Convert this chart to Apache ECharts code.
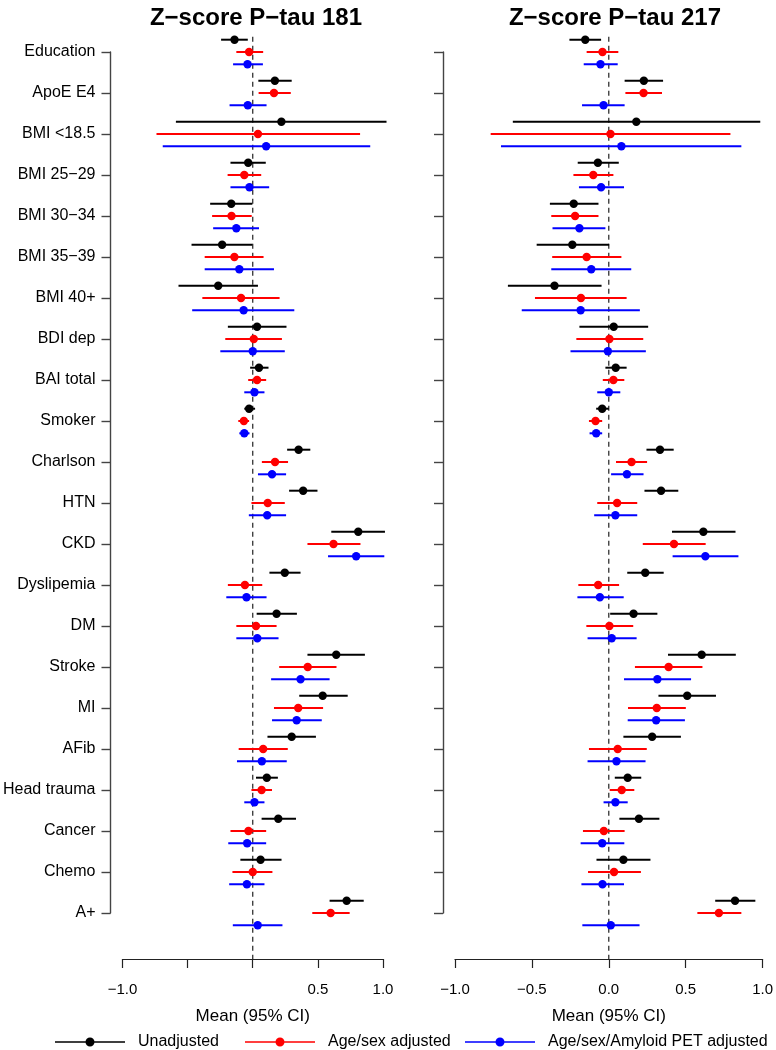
<!DOCTYPE html>
<html>
<head>
<meta charset="utf-8">
<script src="https://cdn.jsdelivr.net/npm/echarts@6/dist/echarts.min.js"></script>
<style>html,body{margin:0;padding:0;background:#fff}#chart{width:776px;height:1050px}</style>
</head>
<body>
<div id="chart"></div>
<script>
const categories = ['Education','ApoE E4','BMI <18.5','BMI 25\u221229','BMI 30\u221234','BMI 35\u221239','BMI 40+','BDI dep','BAI total','Smoker','Charlson','HTN','CKD','Dyslipemia','DM','Stroke','MI','AFib','Head trauma','Cancer','Chemo','A+'];
const seriesNames = ['Unadjusted','Age/sex adjusted','Age/sex/Amyloid PET adjusted'];
const panelTitles = ['Z\u2212score P\u2212tau 181','Z\u2212score P\u2212tau 217'];
const xTicks = [-1.0, -0.5, 0.0, 0.5, 1.0];
const axisTitle = 'Mean (95% CI)';

// P-tau 181
const t181_unadj_mean = [-0.14, 0.17, 0.22, -0.035, -0.165, -0.235, -0.265, 0.033, 0.048, -0.028, 0.352, 0.387, 0.81, 0.246, 0.183, 0.641, 0.537, 0.299, 0.108, 0.196, 0.06, 0.721];
const t181_unadj_lo   = [-0.243, 0.043, -0.59, -0.171, -0.327, -0.47, -0.57, -0.191, -0.02, -0.065, 0.264, 0.279, 0.603, 0.128, 0.03, 0.42, 0.357, 0.113, 0.025, 0.068, -0.095, 0.59];
const t181_unadj_hi   = [-0.038, 0.299, 1.027, 0.1, -0.003, -0.003, 0.04, 0.259, 0.121, 0.018, 0.442, 0.497, 1.015, 0.367, 0.339, 0.861, 0.729, 0.485, 0.193, 0.332, 0.221, 0.852];
const t181_age_mean = [-0.028, 0.163, 0.04, -0.065, -0.163, -0.141, -0.09, 0.008, 0.033, -0.068, 0.171, 0.115, 0.62, -0.06, 0.025, 0.422, 0.349, 0.08, 0.068, -0.033, 0.0, 0.598];
const t181_age_lo   = [-0.126, 0.045, -0.739, -0.193, -0.312, -0.369, -0.387, -0.211, -0.035, -0.111, 0.07, -0.01, 0.42, -0.191, -0.126, 0.203, 0.163, -0.108, -0.01, -0.171, -0.156, 0.457];
const t181_age_hi   = [0.08, 0.292, 0.824, 0.065, -0.008, 0.083, 0.206, 0.224, 0.103, -0.028, 0.271, 0.246, 0.827, 0.073, 0.183, 0.643, 0.54, 0.269, 0.148, 0.103, 0.151, 0.744];
const t181_amy_mean = [-0.04, -0.038, 0.103, -0.025, -0.126, -0.103, -0.07, 0.0, 0.013, -0.065, 0.148, 0.111, 0.794, -0.048, 0.035, 0.367, 0.337, 0.07, 0.013, -0.043, -0.045, 0.038];
const t181_amy_lo   = [-0.151, -0.178, -0.691, -0.171, -0.304, -0.369, -0.465, -0.249, -0.065, -0.103, 0.04, -0.03, 0.578, -0.203, -0.126, 0.141, 0.148, -0.121, -0.065, -0.188, -0.181, -0.153];
const t181_amy_hi   = [0.078, 0.106, 0.902, 0.126, 0.048, 0.163, 0.319, 0.246, 0.09, -0.025, 0.256, 0.256, 1.01, 0.106, 0.198, 0.59, 0.53, 0.261, 0.09, 0.103, 0.09, 0.228];

// P-tau 217
const t217_unadj_mean = [-0.153, 0.228, 0.179, -0.071, -0.228, -0.237, -0.353, 0.032, 0.045, -0.043, 0.333, 0.34, 0.615, 0.237, 0.161, 0.604, 0.51, 0.282, 0.123, 0.196, 0.095, 0.821];
const t217_unadj_lo   = [-0.256, 0.103, -0.624, -0.202, -0.383, -0.469, -0.656, -0.191, -0.022, -0.082, 0.245, 0.232, 0.411, 0.12, 0.009, 0.385, 0.323, 0.095, 0.039, 0.069, -0.08, 0.692];
const t217_unadj_hi   = [-0.05, 0.353, 0.985, 0.065, -0.067, 0.002, -0.047, 0.256, 0.116, 0.0, 0.422, 0.452, 0.824, 0.357, 0.316, 0.826, 0.697, 0.469, 0.211, 0.329, 0.271, 0.953];
const t217_age_mean = [-0.041, 0.226, 0.011, -0.101, -0.219, -0.144, -0.181, 0.004, 0.03, -0.086, 0.148, 0.054, 0.424, -0.069, 0.004, 0.389, 0.312, 0.058, 0.084, -0.032, 0.034, 0.716];
const t217_age_lo   = [-0.144, 0.108, -0.768, -0.23, -0.374, -0.368, -0.48, -0.211, -0.039, -0.129, 0.047, -0.075, 0.221, -0.198, -0.146, 0.17, 0.125, -0.129, 0.006, -0.168, -0.135, 0.576];
const t217_age_hi   = [0.062, 0.346, 0.791, 0.03, -0.067, 0.082, 0.116, 0.224, 0.101, -0.043, 0.249, 0.185, 0.63, 0.067, 0.159, 0.609, 0.501, 0.247, 0.166, 0.103, 0.209, 0.862];
const t217_amy_mean = [-0.054, -0.034, 0.082, -0.05, -0.191, -0.114, -0.183, -0.006, 0.0, -0.082, 0.118, 0.043, 0.628, -0.058, 0.019, 0.316, 0.308, 0.05, 0.043, -0.043, -0.041, 0.013];
const t217_amy_lo   = [-0.163, -0.174, -0.701, -0.194, -0.366, -0.374, -0.566, -0.249, -0.075, -0.125, 0.015, -0.095, 0.415, -0.204, -0.138, 0.099, 0.123, -0.138, -0.034, -0.183, -0.178, -0.172];
const t217_amy_hi   = [0.058, 0.103, 0.862, 0.099, -0.022, 0.146, 0.202, 0.241, 0.075, -0.043, 0.226, 0.185, 0.843, 0.097, 0.181, 0.535, 0.495, 0.239, 0.123, 0.101, 0.099, 0.2];

const FONT = '"Liberation Sans", Arial, Helvetica, sans-serif';
const colors = ['#000000', '#ff0000', '#0000ff'];
const rowOffsets = [-0.3, 0, 0.3];

const panels = [
  [[t181_unadj_lo, t181_unadj_hi, t181_unadj_mean],[t181_age_lo, t181_age_hi, t181_age_mean],[t181_amy_lo, t181_amy_hi, t181_amy_mean]],
  [[t217_unadj_lo, t217_unadj_hi, t217_unadj_mean],[t217_age_lo, t217_age_hi, t217_age_mean],[t217_amy_lo, t217_amy_hi, t217_amy_mean]]
];

function fmtTick(v){ return v.toFixed(1).replace('-', '\u2212'); }

const grids = [
  {left: 119, width: 264, top: 52, height: 861},
  {left: 455, width: 310, top: 52, height: 861}
];
const xAxes = [0,1].map(p => ({
  gridIndex: p, type: 'value', position: 'bottom', min: xTicks[0], max: xTicks[xTicks.length - 1], interval: 0.5, offset: 46,
  axisLine: {show: true, onZero: false, lineStyle: {color: '#222', width: 1.2}},
  axisTick: {show: true, length: 9, lineStyle: {color: '#222', width: 1.2}},
  splitLine: {show: false},
  axisLabel: {
    color: '#000', fontSize: 15, fontFamily: FONT, margin: 23,
    formatter: v => (p === 0 && (Math.abs(v + 0.5) < 1e-9 || Math.abs(v) < 1e-9)) ? '' : fmtTick(v)
  },
  name: axisTitle, nameLocation: 'middle', nameGap: 49,
  nameTextStyle: {color: '#000', fontSize: 17, fontFamily: FONT}
}));
const yAxes = [0,1].map(p => ({
  gridIndex: p, type: 'value', position: 'left', min: 0, max: categories.length - 1, interval: 1, inverse: true, offset: 12,
  axisLine: {show: true, onZero: false, lineStyle: {color: '#444', width: 1.4}},
  axisTick: {show: true, length: 9, lineStyle: {color: '#444', width: 1.4}},
  splitLine: {show: false},
  axisLabel: {
    show: p === 0, color: '#000', fontSize: 16, fontFamily: FONT, margin: 15,
    formatter: v => categories[Math.round(v)] || ''
  }
}));

const series = [];
// dashed reference line at 0
[0,1].forEach(p => {
  series.push({
    type: 'custom', xAxisIndex: p, yAxisIndex: p, clip: false, silent: true, z: 1,
    data: [[0]],
    renderItem: (params, api) => {
      const a = api.coord([api.value(0), -0.37]);
      const b = api.coord([api.value(0), 22.12]);
      return {type: 'line', shape: {x1: a[0], y1: a[1], x2: b[0], y2: b[1]},
        style: {stroke: '#222', lineWidth: 1.2, lineDash: [5, 4]}};
    }
  });
});
[0,1].forEach(p => {
  panels[p].forEach((grp, g) => {
    const [lo, hi, mean] = grp;
    series.push({
      name: seriesNames[g], type: 'custom', xAxisIndex: p, yAxisIndex: p, clip: false, z: 3,
      itemStyle: {color: colors[g]},
      encode: {x: [0, 1, 2], y: 3},
      data: categories.map((c, i) => [lo[i], hi[i], mean[i], i]),
      renderItem: (params, api) => {
        const yv = api.value(3) + rowOffsets[g];
        const a = api.coord([api.value(0), yv]);
        const b = api.coord([api.value(1), yv]);
        const m = api.coord([api.value(2), yv]);
        return {type: 'group', children: [
          {type: 'line', shape: {x1: a[0], y1: a[1], x2: b[0], y2: b[1]}, style: {stroke: colors[g], lineWidth: 2}},
          {type: 'circle', shape: {cx: m[0], cy: m[1], r: 4.2}, style: {fill: colors[g]}}
        ]};
      }
    });
  });
});

const legendIcon = 'path://M0,4.2 L70,4.2 L70,5.8 L0,5.8 Z M30.5,5 A4.5,4.5 0 1,1 39.5,5 A4.5,4.5 0 1,1 30.5,5 Z';
const legendLefts = [50, 240, 460];
const legends = seriesNames.map((n, i) => ({
  data: [{name: n, icon: legendIcon}], left: legendLefts[i], top: 1029, orient: 'horizontal',
  itemWidth: 70, itemHeight: 10, selectedMode: false,
  textStyle: {color: '#000', fontSize: 16, fontFamily: FONT, padding: [0, 0, 0, 8]}
}));

const option = {
  backgroundColor: '#fff',
  animation: false,
  title: panelTitles.map((t, i) => ({
    text: t, left: i === 0 ? 251 : 610, top: 1, textAlign: 'center',
    textStyle: {fontSize: 24, fontWeight: 'bold', fontFamily: FONT, color: '#000'}
  })),
  grid: grids,
  xAxis: xAxes,
  yAxis: yAxes,
  legend: legends,
  series: series
};
const chart = echarts.init(document.getElementById('chart'), null, {renderer: 'canvas'});
chart.setOption(option);
</script>
</body>
</html>
